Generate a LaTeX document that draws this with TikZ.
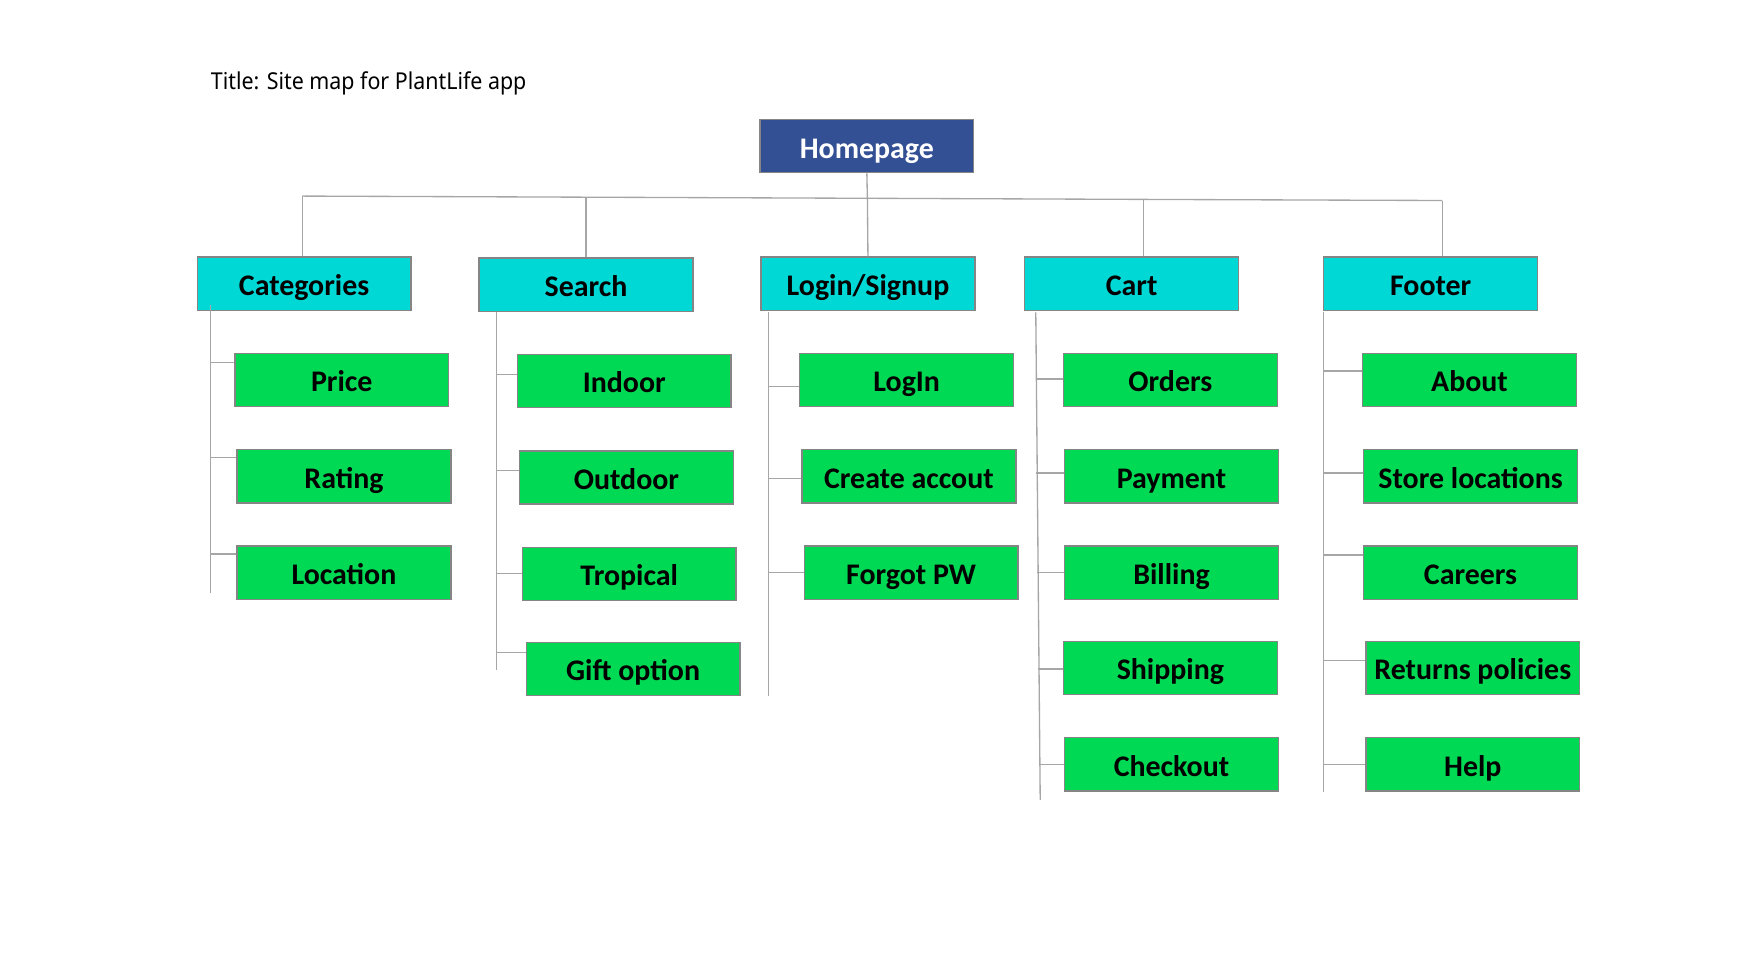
\documentclass[tikz,border=0pt]{standalone}
\usepackage{fontspec}
\setmainfont{Noto Sans}[FakeStretch=0.92]
\newfontfamily\cajafont{Carlito}
\usetikzlibrary{positioning}
\definecolor{azulhome}{HTML}{335095}
\definecolor{cianbox}{HTML}{00D8D6}
\definecolor{verdebox}{HTML}{00D953}
\definecolor{grislinea}{HTML}{A6A6A6}
\definecolor{grisborde}{HTML}{858585}

\tikzset{
  caja/.style={draw=grisborde, line width=0.6pt, minimum width=96.5pt, minimum height=24pt,
    inner sep=0pt, text height=12.7pt, text depth=2pt, font=\cajafont\fontsize{13.5}{15}\selectfont\bfseries},
  raiz/.style={caja, fill=azulhome, text=white},
  seccion/.style={caja, fill=cianbox},
  pagina/.style={caja, fill=verdebox},
  linea/.style={draw=grislinea, line width=0.6pt}
}

\begin{document}
\begin{tikzpicture}[x=0.5pt, y=-0.5pt]
				\useasboundingbox (0,0) rectangle (1568,877);
				
				% Título
				\node[anchor=west, inner sep=0pt, font=\fontsize{10.5}{12}\selectfont] (titulo) at (190,75) {Title: Site map for PlantLife app};
				
				% Nodos principales
				\node[raiz] (home) at (782.5,132) {Homepage};
				\node[seccion] (cat) at (274.5,256) {Categories};
				\node[seccion] (search) at (529,257) {Search};
				\node[seccion] (login) at (783.5,256) {Login/Signup};
				\node[seccion] (cart) at (1021.5,256) {Cart};
				\node[seccion] (footer) at (1291.5,256) {Footer};
				
				% Subpáginas
				\node[pagina] (price) at (308.5,343) {Price};
				\node[pagina] (rating) at (310.5,430) {Rating};
				\node[pagina] (location) at (310.5,517) {Location};
				
				\node[pagina] (indoor) at (563.5,344) {Indoor};
				\node[pagina] (outdoor) at (565.5,431) {Outdoor};
				\node[pagina] (tropical) at (568,518) {Tropical};
				\node[pagina] (gift) at (571.5,604) {Gift option};
				
				\node[pagina] (loginpg) at (818.5,343) {LogIn};
				\node[pagina] (create) at (820.5,430) {Create accout};
				\node[pagina] (forgot) at (822.5,517) {Forgot PW};
				
				\node[pagina] (orders) at (1056.5,343) {Orders};
				\node[pagina] (payment) at (1057.5,430) {Payment};
				\node[pagina] (billing) at (1057.5,517) {Billing};
				\node[pagina] (shipping) at (1056.5,603) {Shipping};
				\node[pagina] (checkout) at (1057.5,690) {Checkout};
				
				\node[pagina] (about) at (1326.5,343) {About};
				\node[pagina] (store) at (1327.5,430) {Store locations};
				\node[pagina] (careers) at (1327.5,517) {Careers};
				\node[pagina] (returns) at (1329.5,603) {Returns policies};
				\node[pagina] (help) at (1329.5,690) {Help};
				
				% Barra horizontal bajo Homepage
				\coordinate (b1) at (273,177);
				\coordinate (b2) at (529,178);
				\coordinate (b3) at (783,179);
				\coordinate (b4) at (1032,180);
				\coordinate (b5) at (1302,181);
				\draw[linea] (b1) -- (b2) -- (b3) -- (b4) -- (b5);
				\draw[linea] (home.south) -- (b3);
				\draw[linea] (b1) -- (b1 |- cat.north);
				\draw[linea] (b2) -- (b2 |- search.north);
				\draw[linea] (b3) -- (login.north);
				\draw[linea] (b4) -- (b4 |- cart.north);
				\draw[linea] (b5) -- (b5 |- footer.north);
				
				% Columna Categories
				\coordinate (c1) at (190,275);
				\coordinate (c2) at (190,535);
				\draw[linea] (c1) -- (c2);
				\draw[linea] ([yshift=8pt]price.west) -- ++(-22,0);
				\draw[linea] ([yshift=8.5pt]rating.west) -- ++(-24,0);
				\draw[linea] ([yshift=8.5pt]location.west) -- ++(-24,0);
				
				% Columna Search
				\coordinate (s1) at (448,282);
				\coordinate (s2) at (448,605);
				\draw[linea] (s1) -- (s2);
				\draw[linea] ([yshift=3pt]indoor.west) -- ++(-19,0);
				\draw[linea] ([yshift=3pt]outdoor.west) -- ++(-21,0);
				\draw[linea] (tropical.west) -- ++(-23,0);
				\draw[linea] ([yshift=7.5pt]gift.west) -- ++(-27,0);
				
				% Columna Login/Signup
				\coordinate (l1) at (694,282);
				\coordinate (l2) at (694,628);
				\draw[linea] (l1) -- (l2);
				\draw[linea] ([yshift=-3pt]loginpg.west) -- ++(-28,0);
				\draw[linea] ([yshift=-1pt]create.west) -- ++(-30,0);
				\draw[linea] (forgot.west) -- ++(-32,0);
				
				% Columna Cart
				\coordinate (k1) at (935,282);
				\coordinate (k2) at (939,722);
				\draw[linea] (k1) -- (k2);
				\draw[linea] ([yshift=0.5pt]orders.west) -- ++(-24,0);
				\draw[linea] ([yshift=1.5pt]payment.west) -- ++(-25,0);
				\draw[linea] (billing.west) -- ++(-24,0);
				\draw[linea] ([yshift=-0.5pt]shipping.west) -- ++(-22,0);
				\draw[linea] (checkout.west) -- ++(-22,0);
				
				% Columna Footer
				\coordinate (f1) at (1195,282);
				\coordinate (f2) at (1195,715);
				\draw[linea] (f1) -- (f2);
				\draw[linea] ([yshift=4pt]about.west) -- ++(-35,0);
				\draw[linea] ([yshift=1.5pt]store.west) -- ++(-36,0);
				\draw[linea] ([yshift=8pt]careers.west) -- ++(-36,0);
				\draw[linea] ([yshift=3.5pt]returns.west) -- ++(-38,0);
				\draw[linea] (help.west) -- ++(-38,0);
			\end{tikzpicture}
\end{document}
